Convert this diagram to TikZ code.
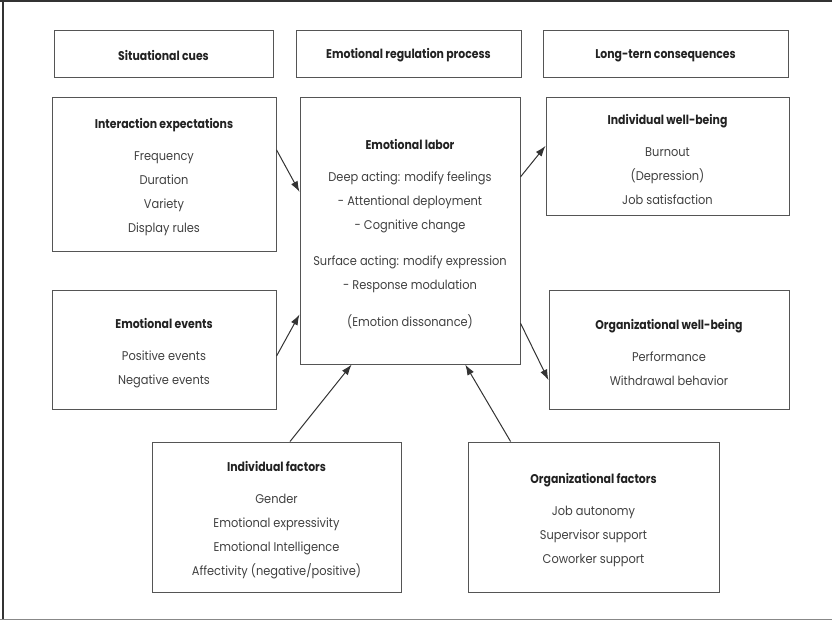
\documentclass[tikz,border=0pt]{standalone}
\usepackage{fontspec}
\setmainfont{Poppins}[FakeStretch=0.9]
\newfontfamily\ttlfam{Poppins}[FakeStretch=0.86]
\usetikzlibrary{arrows.meta,calc}

\definecolor{txt}{HTML}{404040}
\definecolor{ttl}{HTML}{222222}
\definecolor{edge}{HTML}{555555}
\definecolor{arr}{HTML}{333333}

\newcommand{\ttlfont}{\ttlfam\fontsize{9.5}{18}\selectfont\bfseries\color{ttl}}
\newcommand{\bodyfont}{\fontsize{9.5}{18}\selectfont\color{txt}}

\begin{document}
\begin{tikzpicture}[
  x=0.75pt, y=-0.75pt,
  box/.style={draw=edge, line width=0.75pt, rectangle, inner sep=0pt},
  words/.style={inner sep=0pt, align=center, font=\bodyfont},
  head/.style={box, minimum height=35.25pt},
  link/.style={draw=arr, line width=0.75pt, -{Latex[length=8pt,width=5.5pt]}}
]
\useasboundingbox (0,0) rectangle (832,622);
% page frame
\draw[draw=arr, line width=1.2pt] (0,1) -- (832,1);
\draw[draw=arr, line width=1pt] (3,1) -- (3,620);
\draw[draw=edge!70, line width=1pt] (0,619.5) -- (832,619.5);

% column headings
\node[head, minimum width=164.25pt] (hs) at (163.5,53.5) {};
\node[head, minimum width=168.75pt] (hp) at (408.5,53.5) {};
\node[head, minimum width=183.75pt] (hc) at (665.5,53.5) {};
\node[words, font=\ttlfont] (hsT) at ([yshift=-1.5pt]hs.center) {Situational cues};
\node[words, font=\ttlfont] (hpT) at ([yshift=-1.5pt]hp.center) {Emotional regulation process\vphantom{g}};
\node[words, font=\ttlfont] (hcT) at ([yshift=-1.5pt]hc.center) {Long-tern consequences};

% situational cues
\node[box, minimum width=168pt, minimum height=115.5pt] (inter) at (164,174) {};
\node[words] (interT) at ([yshift=-2.6pt]inter.center)
  {{\ttlfont Interaction expectations}\\[6pt]
   Frequency\\ Duration\\ Variety\\ Display rules};
\node[box, minimum width=168pt, minimum height=89.25pt] (events) at (164,349.5) {};
\node[words] (eventsT) at ([yshift=-2.6pt]events.center)
  {{\ttlfont Emotional events}\\[6pt]
   Positive events\\ Negative events};

% regulation process
\node[box, minimum width=165pt, minimum height=200.25pt] (labor) at (410,230.5) {};
\node[words] (laborT) at ([yshift=-2.6pt]labor.center)
  {{\ttlfont Emotional labor}\\[6pt]
   Deep acting: modify feelings\\
   - Attentional deployment\\
   - Cognitive change\\[9pt]
   Surface acting: modify expression\\
   - Response modulation\\[9.75pt]
   (Emotion dissonance)};

% consequences
\node[box, minimum width=182.25pt, minimum height=88.5pt] (iwb) at (667.5,156) {};
\node[words] (iwbT) at ([yshift=-2.6pt]iwb.center)
  {{\ttlfont Individual well-being}\\[6pt]
   Burnout\\ (Depression)\\ Job satisfaction};
\node[box, minimum width=180pt, minimum height=89.25pt] (owb) at (669,349.5) {};
\node[words] (owbT) at ([yshift=-2.6pt]owb.center)
  {{\ttlfont Organizational well-being}\\[6pt]
   Performance\\ Withdrawal behavior};

% antecedent factors
\node[box, minimum width=186.75pt, minimum height=112.5pt] (ifac) at (276.5,517) {};
\node[words] (ifacT) at ([yshift=-2.6pt]ifac.center)
  {{\ttlfont Individual factors}\\[6pt]
   Gender\\ Emotional expressivity\\ Emotional Intelligence\\
   Affectivity (negative/positive)};
\node[box, minimum width=188.25pt, minimum height=112.5pt] (ofac) at (593.5,517) {};
\node[words] (ofacT) at ([yshift=-2.6pt]ofac.center)
  {{\ttlfont Organizational factors}\\[6pt]
   Job autonomy\\ Supervisor support\\ Coworker support};

% connectors
\draw[link] ($(inter.north east)!0.344!(inter.south east)$)
         -- ($(labor.north west)!0.356!(labor.south west)$);
\draw[link] ($(events.north east)!0.555!(events.south east)$)
         -- ($(labor.north west)!0.813!(labor.south west)$);
\draw[link] ($(labor.north east)!0.30!(labor.south east)$)
         -- ($(iwb.north west)!0.415!(iwb.south west)$);
\draw[link] ($(labor.north east)!0.846!(labor.south east)$)
         -- ($(owb.north west)!0.756!(owb.south west)$);
\draw[link] ($(ifac.north west)!0.554!(ifac.north east)$)
         -- ($(labor.south west)!0.236!(labor.south east)$);
\draw[link] ($(ofac.north west)!0.171!(ofac.north east)$)
         -- ($(labor.south west)!0.75!(labor.south east)$);
\end{tikzpicture}
\end{document}
